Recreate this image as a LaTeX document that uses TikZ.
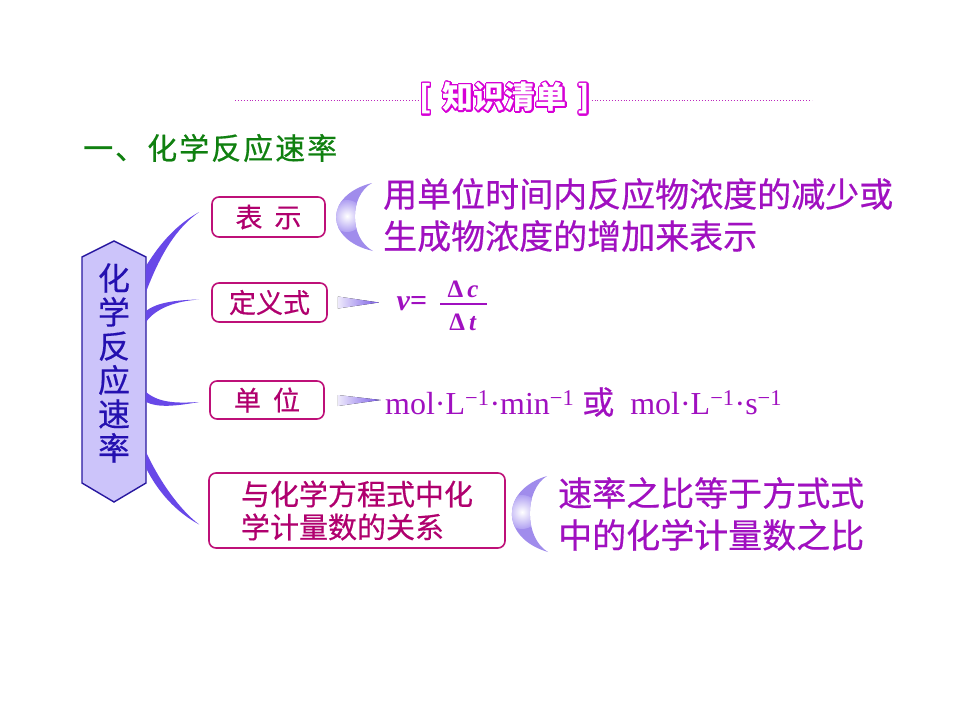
\documentclass[tikz,border=0pt]{standalone}
\usepackage{fontspec}
\setmainfont{Liberation Serif}
\newfontfamily\cjk{Noto Sans CJK SC}
\newfontfamily\cjkb[FakeBold=0.5]{Noto Sans CJK SC}
\usepackage[copies]{contour}
\contournumber{24}
\contourlength{1.3pt}
\usetikzlibrary{calc}
\definecolor{hexfill}{RGB}{204,196,250}
\definecolor{hexline}{RGB}{40,24,160}
\definecolor{hextext}{RGB}{36,16,176}
\definecolor{conn}{RGB}{104,72,232}
\definecolor{lblline}{RGB}{190,16,120}
\definecolor{lbltext}{RGB}{176,0,110}
\definecolor{rtext}{RGB}{160,16,192}
\definecolor{cres}{RGB}{176,160,242}
\definecolor{cresdark}{RGB}{160,140,236}
\definecolor{wedgel}{RGB}{238,234,252}
\definecolor{wedger}{RGB}{120,90,230}
\definecolor{dotc}{RGB}{190,40,190}
\definecolor{ttl}{RGB}{214,0,214}
\definecolor{secgreen}{RGB}{16,128,16}
\newcommand{\myspc}{\hspace{2pt}}
\tikzset{
  lbl/.style={draw=lblline, line width=1.6pt, rounded corners=7pt, fill=white,
    text=lbltext, inner sep=0pt, font=\cjkb\fontsize{27}{34}\selectfont},
  rtxt/.style={text=rtext, inner sep=0pt, anchor=west, align=left,
    font=\cjkb\fontsize{34}{42}\selectfont},
  connshape/.style={fill=conn, draw=none},
  dotline/.style={dotc, dotted, line width=0.9pt},
  wedgeshape/.style={left color=wedgel, right color=wedger, draw=none},
  spot/.style={inner color=white, outer color=cres, draw=none}
}
\begin{document}
\begin{tikzpicture}[x=1pt,y=-1pt]
\useasboundingbox (0,0) rectangle (960,720);
\fill[white] (0,0) rectangle (960,720);

% header
\node[inner sep=0pt, font=\cjk\bfseries\fontsize{31}{34}\selectfont] (title) at (505,99)
  {\contour{ttl}{\color{white}[\hspace{11pt}知识清单\hspace{11pt}]}};
\coordinate (dl) at (235,100);
\coordinate (dr) at (812,100);
\draw[dotline] (dl) -- ([xshift=-1pt]title.west |- dl);
\draw[dotline] ([xshift=1pt]title.east |- dr) -- (dr);

\node[anchor=west, inner sep=0pt, text=secgreen, font=\cjkb\fontsize{30}{32}\selectfont] (sec) at (83,148)
  {一{\myspc}、{\myspc}化{\myspc}学{\myspc}反{\myspc}应{\myspc}速{\myspc}率};

% central hexagon box
\draw[hexline, fill=hexfill, line width=1.4pt]
  (114,241) -- (146,257) -- (146,483) -- (114,502) -- (82,483) -- (82,257) -- cycle;
\node[text=hextext, align=center, inner sep=0pt, font=\cjkb\fontsize{32}{34}\selectfont] (hex) at (114,363)
  {化\\学\\反\\应\\速\\率};
\coordinate (hexE) at (146,363);

% label boxes
\node[lbl, minimum width=113pt, minimum height=40pt] (b1) at (268.5,217) {表\hspace{12pt}示};
\node[lbl, minimum width=115pt, minimum height=39pt] (b2) at (269.5,302.5) {定义式};
\node[lbl, minimum width=114pt, minimum height=38pt] (b3) at (267,400) {单\hspace{12pt}位};
\node[lbl, minimum width=296pt, minimum height=75pt, align=left, font=\cjkb\fontsize{29}{33}\selectfont] (b4) at (357,510.5)
  {与化学方程式中化\\学计量数的关系};

% tapered connectors from hexagon to labels
\fill[connshape] ($(hexE)+(0,-71)$) .. controls (160,255) and (176,228) .. ($(b1.west)+(-12,-5)$)
  .. controls (172,227) and (156,250) .. ($(hexE)+(0,-97)$) -- cycle;
\fill[connshape] ($(hexE)+(0,-41)$) .. controls (156,308) and (176,301) .. ($(b2.west)+(-12,-3)$)
  .. controls (174,300) and (156,303) .. ($(hexE)+(0,-52)$) -- cycle;
\fill[connshape] ($(hexE)+(0,29)$) .. controls (160,404) and (180,403) .. ($(b3.west)+(-10,2)$)
  .. controls (176,406) and (158,408) .. ($(hexE)+(0,39)$) -- cycle;
\fill[connshape] ($(hexE)+(0,89)$) .. controls (160,482) and (180,510) .. ($(b4.west)+(-9,14)$)
  .. controls (176,512) and (158,492) .. ($(hexE)+(0,105)$) -- cycle;

% right side content
\node[rtxt] (r1) at (383,215) {用单位时间内反应物浓度的减少或\\生成物浓度的增加来表示};
\node[rtxt] (r4) at (558,514) {速率之比等于方式式\\中的化学计量数之比};

% crescents
\begin{scope}
  \clip (372,183) .. controls (324,195) and (324,240) .. (373,251)
    .. controls (349,238) and (349,196) .. (372,183) -- cycle;
  \fill[cresdark] (320,175) rectangle (380,260);
  \shade[spot] (347,216) circle (16);
\end{scope}
\begin{scope}
  \clip (547,476) .. controls (500,490) and (500,538) .. (548,552)
    .. controls (524,538) and (524,490) .. (547,476) -- cycle;
  \fill[cresdark] (495,470) rectangle (555,560);
  \shade[spot] (522,512) circle (17);
\end{scope}

% formula
\node[text=rtext, inner sep=0pt, font=\bfseries\fontsize{30}{32}\selectfont] (v) at (412,304) {\textit{v}=};
\node[text=rtext, inner sep=0pt, font=\bfseries\fontsize{25}{28}\selectfont] (num) at (463,289) {Δ\,\textit{c}};
\node[text=rtext, inner sep=0pt, font=\bfseries\fontsize{25}{28}\selectfont] (den) at (463,322) {Δ\,\textit{t}};
\coordinate (barL) at (440,304);
\coordinate (barR) at (487,304);
\draw[rtext, line width=1.3pt] (barL) -- (barR);

% wedges
\fill[wedgeshape] ($(b2.east)+(10,-6)$) -- ($(b2.east)+(51,0)$) -- ($(b2.east)+(10,6)$) -- cycle;
\fill[wedgeshape] ($(b3.east)+(13,-5)$) -- ($(b3.east)+(56,0)$) -- ($(b3.east)+(13,6)$) -- cycle;

% units
\node[text=rtext, inner sep=0pt, anchor=west, font=\fontsize{32}{34}\selectfont] (units) at (385,402)
  {mol·L\textsuperscript{−1}·min\textsuperscript{−1} {\cjkb 或}\ \ mol·L\textsuperscript{−1}·s\textsuperscript{−1}};
\end{tikzpicture}
\end{document}
